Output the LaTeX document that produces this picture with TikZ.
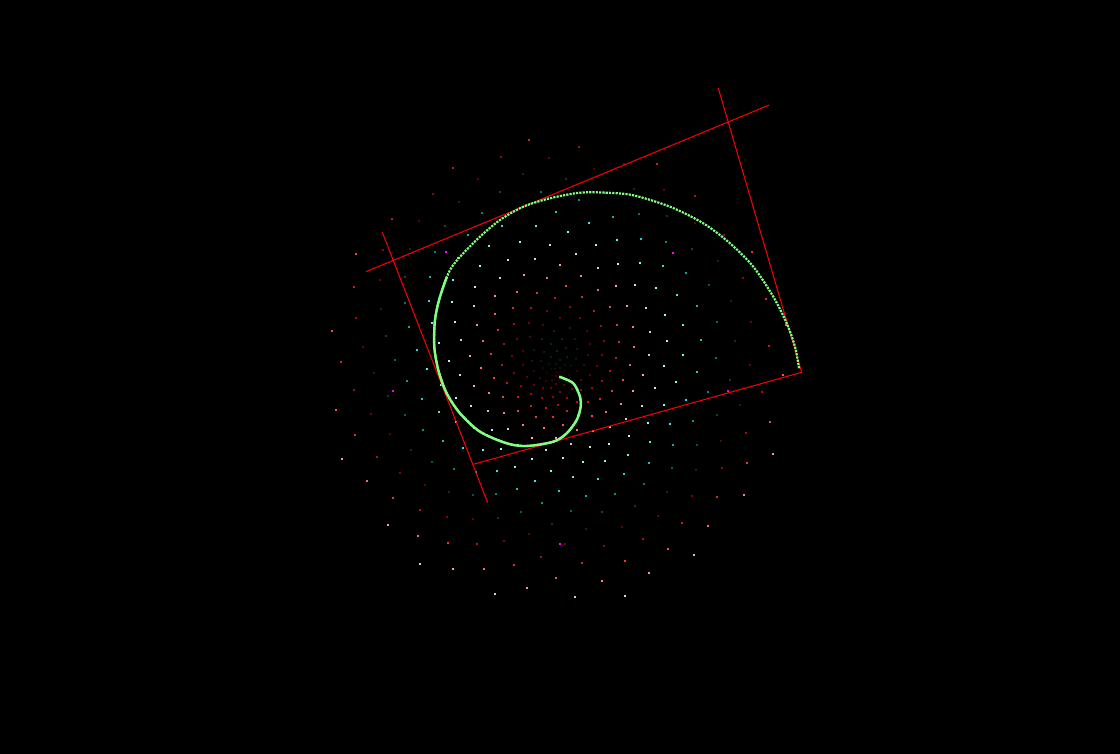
\documentclass[tikz,border=0pt]{standalone}
\usepackage{tikz}
\definecolor{spiralgreen}{RGB}{128,255,128}
\definecolor{framered}{RGB}{255,0,0}
\definecolor{seedpink}{RGB}{255,0,255}

\begin{document}
\begin{tikzpicture}[x=1pt, y=-1pt,
  frame/.style={draw=framered, line width=1pt},
  spiral/.style={draw=spiralgreen, line width=2.4pt, dash pattern=on 335pt off 2000pt},
  spiraldots/.style={draw=spiralgreen, line width=2.2pt, dash pattern=on 2.2pt off 1.1pt}]
 \fill[black] (0,0) rectangle (1120,754);
 \useasboundingbox (0,0) rectangle (1120,754);
 % seeds, golden angle
 \foreach \n in {1,...,392}{
   \pgfmathsetmacro{\rad}{0.6*\n}
   \pgfmathsetmacro{\ang}{\the\numexpr(\n*137508-(\n*137508/360000)*360000)/100\relax/10}
   \pgfmathsetmacro{\uu}{\rad/235}
   \pgfmathsetmacro{\sh}{50*sin(\ang)}
   \pgfmathsetmacro{\rd}{max(0,min(1,0.5+0.5*cos(540*\uu-180+\sh)))}
   \pgfmathsetmacro{\cy}{max(0,min(1,min(1,\uu/0.3)*(0.5+0.5*cos(540*\uu-270+\sh))))}
   \pgfmathsetmacro{\px}{557+\rad*cos(\ang)}
   \pgfmathsetmacro{\py}{373+\rad*sin(\ang)}
   \definecolor{seedc}{rgb}{\rd,\cy,\cy}
   \fill[seedc] (\px-1,\py-1) rectangle (\px+1,\py+1);
 }
 \foreach \x/\y in {446/252, 673/253, 393/391, 728/391, 560/544}
   \fill[seedpink] (\x-1,\y-1) rectangle (\x+1,\y+1);
 % frame
 \coordinate (topW) at (366,271.7);
 \coordinate (topE) at (769.3,105);
 \coordinate (rightN) at (718.3,88.3);
 \coordinate (cornerSE) at (801.7,372.3);
 \coordinate (cornerSW) at (473.5,464.3);
 \coordinate (leftN) at (382.3,232.3);
 \coordinate (leftS) at (487.7,502.7);
 \draw[frame] (topW) -- (topE);
 \draw[frame] (rightN) -- (cornerSE) -- (cornerSW);
 \draw[frame] (leftN) -- (leftS);
 % spiral
 \foreach \look in {spiraldots, spiral}
 \draw[\look] plot[smooth] coordinates {(559.3,376.7) (573.3,383.3) (580,396.7)
   (580.7,406.7) (576.7,420) (566.7,433.3) (553.3,441.7) (526.7,446) (506.7,443.3)
   (480,431.7) (460,413.3) (446.7,393.3) (438.3,370) (434.3,346.7) (435,320)
   (440,296.7) (450,270) (463.3,253.3) (480,236.7) (500,220) (523.3,206.7)
   (550,198.3) (580,192.7) (606.7,192.7) (633.3,195.3) (670,206.7) (703.3,223.3)
   (730,243.3) (753.3,266.7) (773.3,296.7) (786.7,323.3) (795,346.7) (799,368.3)};
\end{tikzpicture}
\end{document}
